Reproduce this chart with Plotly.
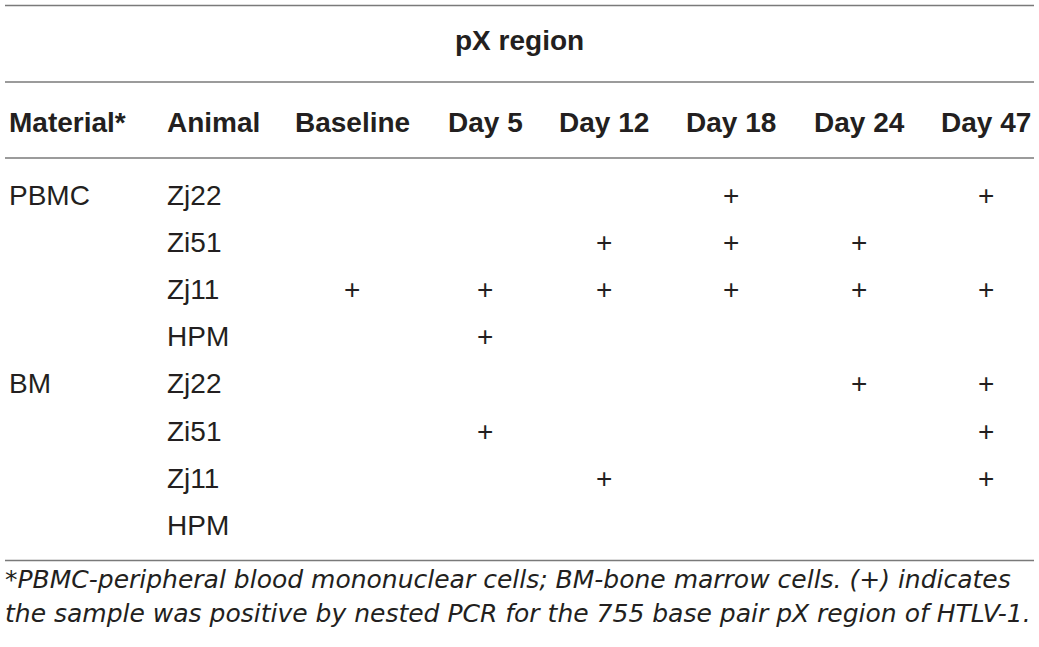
import plotly.graph_objects as go

# table content
GROUP_TITLE = "pX region"
HEADERS = ["Material*", "Animal", "Baseline", "Day 5", "Day 12", "Day 18", "Day 24", "Day 47"]
MATERIALS = ["PBMC", "", "", "", "BM", "", "", ""]
ANIMALS = ["Zj22", "Zi51", "Zj11", "HPM", "Zj22", "Zi51", "Zj11", "HPM"]
# 1 = positive by nested PCR ("+"), columns Baseline .. Day 47
POSITIVE = [
    [0, 0, 0, 1, 0, 1],
    [0, 0, 1, 1, 1, 0],
    [1, 1, 1, 1, 1, 1],
    [0, 1, 0, 0, 0, 0],
    [0, 0, 0, 0, 1, 1],
    [0, 1, 0, 0, 0, 1],
    [0, 0, 1, 0, 0, 1],
    [0, 0, 0, 0, 0, 0],
]
FOOTNOTE = [
    "*PBMC-peripheral blood mononuclear cells; BM-bone marrow cells. (+) indicates",
    "the sample was positive by nested PCR for the 755 base pair pX region of HTLV-1.",
]

W, H = 1039, 647
FONT = "Liberation Sans, Arial, sans-serif"
FOOT_FONT = "DejaVu Sans, sans-serif"
INK = "#231f20"
RULE = "#7a7a7a"

# layout of the page (pixels, y downwards)
col_left = [7, 165]
col_center = [352, 485, 604, 731, 859, 986]
title_y = 40
header_y = 122
row_y0, row_step = 195, 47.2
rules_y = [5.5, 82, 158, 560.5]
foot_y = [579, 613]

ann = []


def text(x, y, s, size=28, bold=False, italic=False, anchor="left", family=FONT):
    ann.append(dict(
        x=x, y=y, xref="x", yref="y", text=f"<b>{s}</b>" if bold else s,
        showarrow=False, xanchor=anchor, yanchor="middle",
        font=dict(family=family, size=size, color=INK,
                  style="italic" if italic else "normal"),
    ))


text(519, title_y, GROUP_TITLE, bold=True, anchor="center")
for i, h in enumerate(HEADERS):
    if i < 2:
        text(col_left[i], header_y, h, bold=True)
    else:
        text(col_center[i - 2], header_y, h, bold=True, anchor="center")

for r, (mat, animal, flags) in enumerate(zip(MATERIALS, ANIMALS, POSITIVE)):
    y = row_y0 + r * row_step
    if mat:
        text(col_left[0], y, mat)
    text(col_left[1], y, animal)
    for c, f in enumerate(flags):
        if f:
            text(col_center[c], y, "+", anchor="center")

for y, line in zip(foot_y, FOOTNOTE):
    text(3, y, line, size=25, italic=True, family=FOOT_FONT)

fig = go.Figure()
for y in rules_y:
    fig.add_shape(type="line", x0=5, x1=1034, y0=y, y1=y, xref="x", yref="y",
                  line=dict(color=RULE, width=1.6))

fig.update_layout(
    width=W, height=H,
    margin=dict(l=0, r=0, t=0, b=0),
    paper_bgcolor="white", plot_bgcolor="white",
    xaxis=dict(range=[0, W], visible=False, fixedrange=True),
    yaxis=dict(range=[H, 0], visible=False, fixedrange=True),
    annotations=ann,
    showlegend=False,
)
fig.write_html("out.html", config={"displayModeBar": False},
               post_script="document.body.style.margin='0';")
